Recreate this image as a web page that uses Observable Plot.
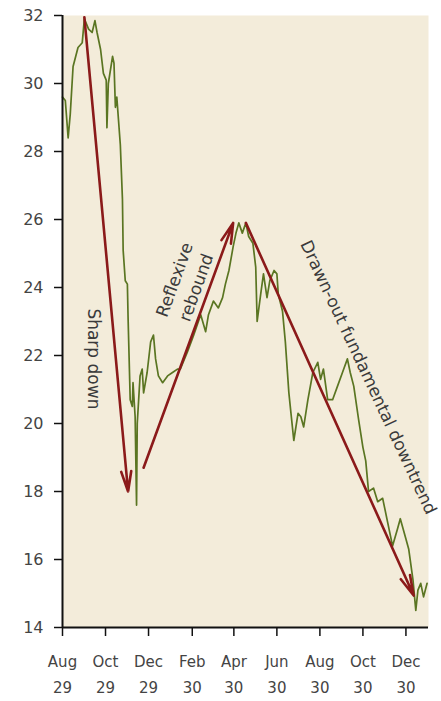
<!DOCTYPE html>
<html><head><meta charset="utf-8">
<script src="https://cdn.jsdelivr.net/npm/d3@7"></script>
<script src="https://cdn.jsdelivr.net/npm/@observablehq/plot@0.6"></script>
<style>body{margin:0;background:#fff;} #chart svg{display:block;}</style>
</head><body><div id="chart"></div>
<script>
const dates = ["1929-08-01","1929-08-05","1929-08-09","1929-08-12","1929-08-16","1929-08-23","1929-08-29","1929-09-01","1929-09-07","1929-09-12","1929-09-16","1929-09-19","1929-09-24","1929-09-28","1929-10-02","1929-10-03","1929-10-05","1929-10-11","1929-10-13","1929-10-15","1929-10-17","1929-10-22","1929-10-25","1929-10-26","1929-10-29","1929-11-01","1929-11-02","1929-11-05","1929-11-08","1929-11-09","1929-11-12","1929-11-14","1929-11-15","1929-11-19","1929-11-22","1929-11-24","1929-11-29","1929-12-04","1929-12-08","1929-12-11","1929-12-15","1929-12-21","1929-12-28","1930-01-04","1930-01-11","1930-01-15","1930-01-25","1930-02-03","1930-02-13","1930-02-20","1930-02-24","1930-03-03","1930-03-10","1930-03-16","1930-03-20","1930-03-25","1930-03-31","1930-04-04","1930-04-08","1930-04-13","1930-04-18","1930-04-22","1930-04-28","1930-05-02","1930-05-04","1930-05-09","1930-05-13","1930-05-18","1930-05-22","1930-05-28","1930-06-01","1930-06-03","1930-06-09","1930-06-13","1930-06-18","1930-06-21","1930-06-25","1930-07-01","1930-07-05","1930-07-09","1930-07-15","1930-07-22","1930-07-29","1930-08-02","1930-08-06","1930-08-12","1930-08-19","1930-08-26","1930-09-02","1930-09-09","1930-09-13","1930-09-18","1930-09-25","1930-10-01","1930-10-05","1930-10-09","1930-10-16","1930-10-22","1930-10-29","1930-11-05","1930-11-12","1930-11-19","1930-11-23","1930-12-01","1930-12-05","1930-12-11","1930-12-15","1930-12-18","1930-12-22","1930-12-26","1930-12-31"];
const values = [29.6,29.5,28.4,29.1,30.5,31.06,31.2,31.9,31.6,31.5,31.85,31.5,31.0,30.3,30.1,28.7,30.0,30.8,30.6,29.3,29.6,28.2,26.6,25.1,24.2,24.1,23.1,20.7,20.5,21.2,20.2,17.6,20.0,21.4,21.6,20.9,21.5,22.4,22.6,21.9,21.4,21.2,21.4,21.5,21.6,21.6,22.1,22.6,23.2,22.7,23.2,23.6,23.4,23.7,24.1,24.5,25.2,25.6,25.9,25.6,25.9,25.5,25.3,24.6,23.0,23.8,24.4,23.7,24.2,24.5,24.4,23.8,23.3,22.4,20.9,20.3,19.5,20.3,20.2,19.9,20.7,21.5,21.8,21.3,21.6,20.7,20.7,21.1,21.5,21.9,21.5,21.1,20.1,19.3,18.9,18.0,18.1,17.7,17.8,17.1,16.4,16.9,17.2,16.6,16.3,15.4,14.5,15.1,15.3,14.9,15.3];

const yTicks = [14,16,18,20,22,24,26,28,30,32];
const xTickDates = ["1929-08-01","1929-10-01","1929-12-01","1930-02-01","1930-04-01","1930-06-01","1930-08-01","1930-10-01","1930-12-01"];
const xTickLabels = ["Aug\n29","Oct\n29","Dec\n29","Feb\n30","Apr\n30","Jun\n30","Aug\n30","Oct\n30","Dec\n30"];
const xDomain = ["1929-08-01","1931-01-02"];

const arrowX1 = ["1929-09-01","1929-11-24","1930-04-18"];
const arrowY1 = [31.95,18.7,25.9];
const arrowX2 = ["1929-11-02","1930-03-31","1930-12-12"];
const arrowY2 = [18.0,25.9,14.94];

const noteLabels = ["Sharp down","Reflexive\nrebound","Drawn-out fundamental downtrend"];
const noteX = ["1929-09-17","1930-01-20","1930-10-11"];
const noteY = [21.9,24.13,21.38];
const noteRotate = [90,-70,65];

const P = s => new Date(s + "T00:00:00Z");
const series = dates.map((d,i) => ({date: P(d), value: values[i]}));
const arrows = arrowX1.map((d,i) => ({x1: P(d), y1: arrowY1[i], x2: P(arrowX2[i]), y2: arrowY2[i]}));
const notes = noteLabels.map((t,i) => ({text: t, x: P(noteX[i]), y: noteY[i], r: noteRotate[i]}));
const tickMap = new Map(xTickDates.map((d,i) => [+P(d), xTickLabels[i]]));

const textMarks = notes.map(n => Plot.text([n], {x: "x", y: "y", text: "text", rotate: n.r,
  fontFamily: "DejaVu Sans", fontSize: 17, fill: "#3a3a3a", textAnchor: "middle", lineAnchor: "middle", lineHeight: 1.35}));

const chart = Plot.plot({
  width: 441, height: 701,
  marginLeft: 62, marginRight: 13, marginTop: 15, marginBottom: 74,
  style: {fontFamily: "DejaVu Sans", background: "#fff", overflow: "visible"},
  x: {type: "utc", domain: xDomain.map(P)},
  y: {domain: [14, 32]},
  marks: [
    Plot.frame({fill: "#f3ecda", stroke: "none"}),
    Plot.axisY({ticks: yTicks, tickSize: 8, tickPadding: 11, fontSize: 16, fill: "#444", stroke: "#111", strokeWidth: 1.5, label: null}),
    Plot.axisX({ticks: xTickDates.map(P), tickFormat: d => tickMap.get(+d), tickSize: 9, tickPadding: 12, fontSize: 15, lineHeight: 1.75, fill: "#444", stroke: "#111", strokeWidth: 1.5, label: null}),
    Plot.line(series, {x: "date", y: "value", stroke: "#5a7522", strokeWidth: 1.7}),
    Plot.arrow(arrows, {x1: "x1", y1: "y1", x2: "x2", y2: "y2", stroke: "#8b1a1a", strokeWidth: 2.6, headLength: 12, headAngle: 28}),
    ...textMarks,
    Plot.ruleX([P(xDomain[0])], {y1: 14, y2: 32, stroke: "#111", strokeWidth: 2}),
    Plot.ruleY([14], {stroke: "#111", strokeWidth: 2})
  ]
});
document.getElementById("chart").append(chart);
</script>
</body></html>
